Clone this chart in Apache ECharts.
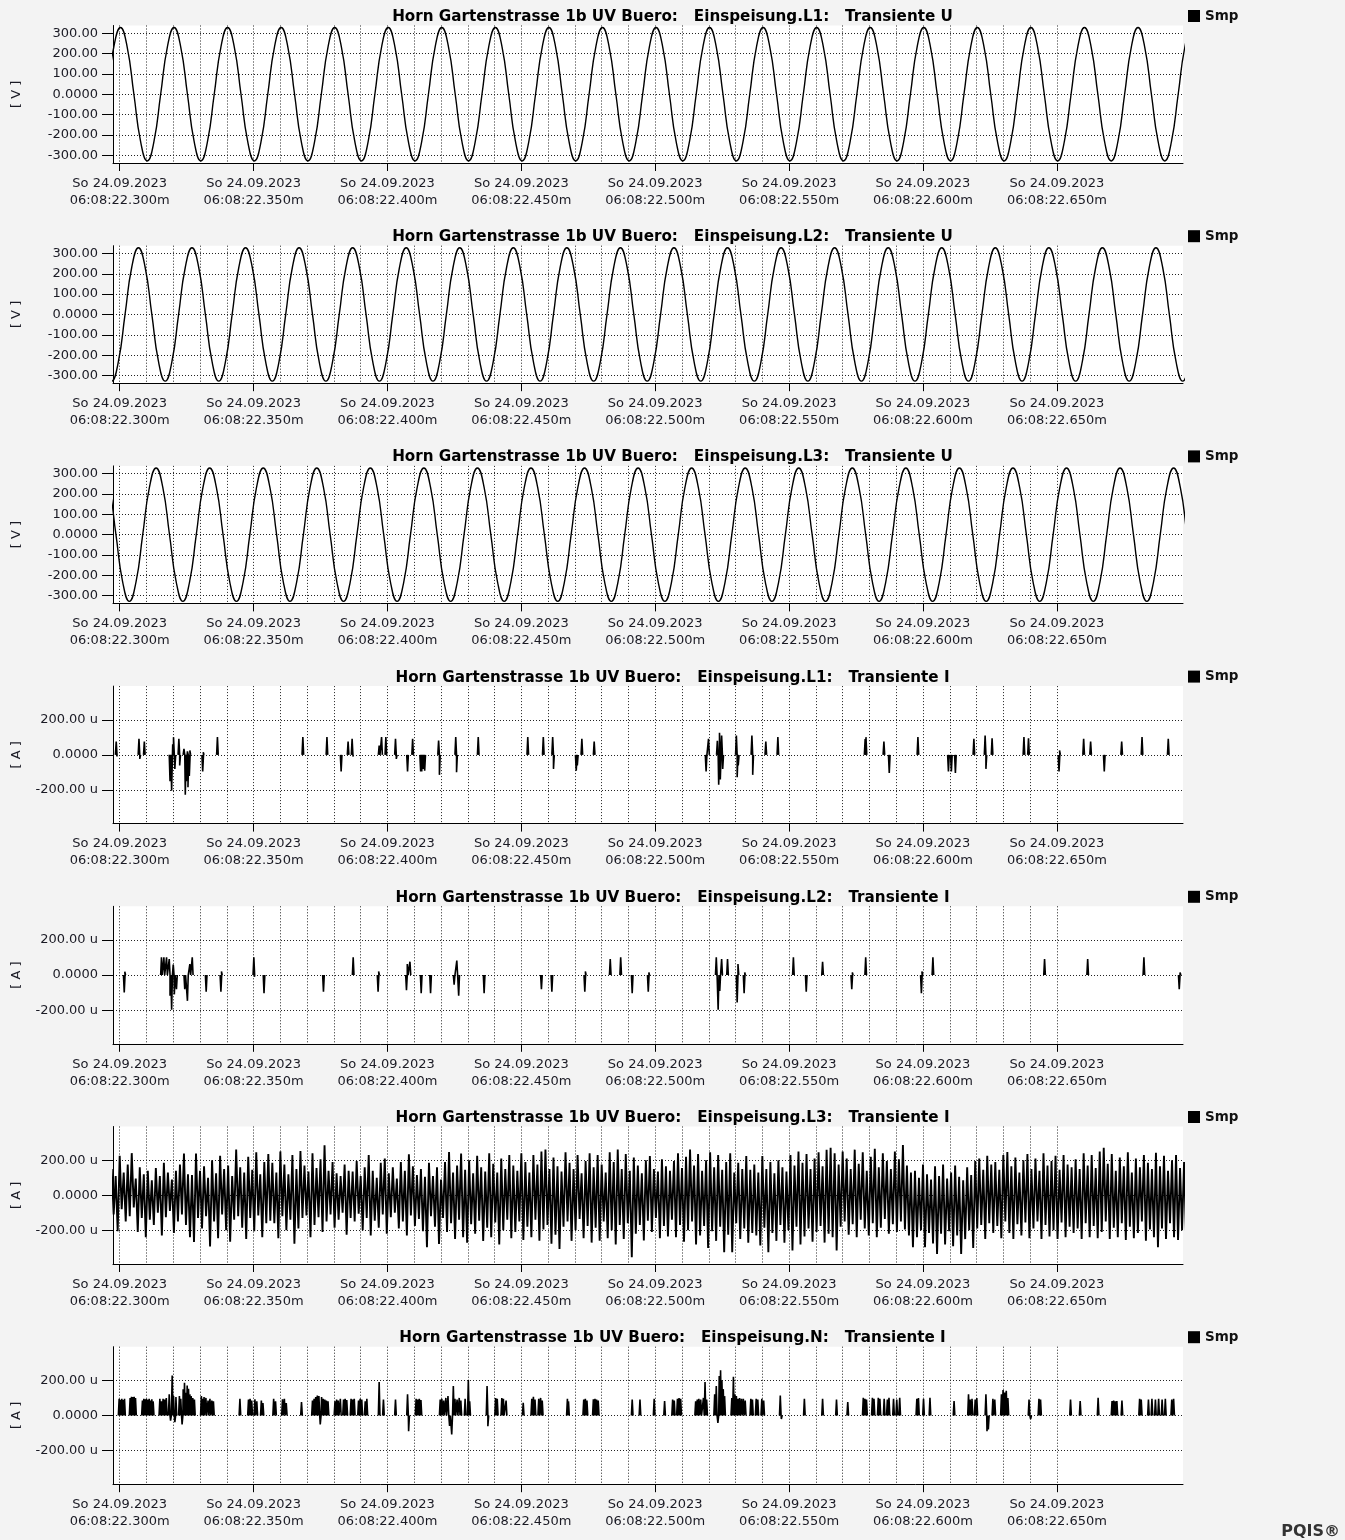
<!DOCTYPE html>
<html>
<head>
<meta charset="utf-8">
<script src="https://cdn.jsdelivr.net/npm/echarts@6/dist/echarts.min.js"></script>
<style>
html,body{margin:0;padding:0;background:#fff;}
#chart{width:1345px;height:1540px;}
</style>
</head>
<body>
<div id="chart"></div>
<script>
var panelTitles = [
    'Horn Gartenstrasse 1b UV Buero:   Einspeisung.L1:   Transiente U',
    'Horn Gartenstrasse 1b UV Buero:   Einspeisung.L2:   Transiente U',
    'Horn Gartenstrasse 1b UV Buero:   Einspeisung.L3:   Transiente U',
    'Horn Gartenstrasse 1b UV Buero:   Einspeisung.L1:   Transiente I',
    'Horn Gartenstrasse 1b UV Buero:   Einspeisung.L2:   Transiente I',
    'Horn Gartenstrasse 1b UV Buero:   Einspeisung.L3:   Transiente I',
    'Horn Gartenstrasse 1b UV Buero:   Einspeisung.N:   Transiente I'
];
var panelUnits = ['[ V ]', '[ V ]', '[ V ]', '[ A ]', '[ A ]', '[ A ]', '[ A ]'];
var seriesName = 'Smp';

// x values are milliseconds after 06:08:22.000
var xMin = 297.5, xMax = 697.1;
var xTicks = [300, 350, 400, 450, 500, 550, 600, 650];
var xGrid = [300, 310, 320, 330, 340, 350, 360, 370, 380, 390, 400, 410, 420, 430, 440, 450, 460, 470,
    480, 490, 500, 510, 520, 530, 540, 550, 560, 570, 580, 590, 600, 610, 620, 630, 640, 650];
var uTicks = [-300, -200, -100, 0, 100, 200, 300];
var iTicks = [-200, 0, 200];

// voltage samples, one every 2.5 ms
var uStep = 2.5;
var u1Start = 295.3, u2Start = 294.5, u3Start = 293.6;
var u1 = [
    0, 232, 328, 232, 0, -232, -328, -232,  0, 232, 328, 232, 0, -232, -328, -232,
    0, 232, 328, 232, 0, -232, -328, -232,  0, 232, 328, 232, 0, -232, -328, -232,
    0, 232, 328, 232, 0, -232, -328, -232,  0, 232, 328, 232, 0, -232, -328, -232,
    0, 232, 328, 232, 0, -232, -328, -232,  0, 232, 328, 232, 0, -232, -328, -232,
    0, 232, 328, 232, 0, -232, -328, -232,  0, 232, 328, 232, 0, -232, -328, -232,
    0, 232, 328, 232, 0, -232, -328, -232,  0, 232, 328, 232, 0, -232, -328, -232,
    0, 232, 328, 232, 0, -232, -328, -232,  0, 232, 328, 232, 0, -232, -328, -232,
    0, 232, 328, 232, 0, -232, -328, -232,  0, 232, 328, 232, 0, -232, -328, -232,
    0, 232, 328, 232, 0, -232, -328, -232,  0, 232, 328, 232, 0, -232, -328, -232,
    0, 232, 328, 232, 0, -232, -328, -232,  0, 232, 328, 232, 0, -232, -328, -232,
    0, 232, 328, 232, 0, -232, -328, -232
];
var u2 = [
    -232, -328, -232, 0, 232, 328, 232, 0,  -232, -328, -232, 0, 232, 328, 232, 0,
    -232, -328, -232, 0, 232, 328, 232, 0,  -232, -328, -232, 0, 232, 328, 232, 0,
    -232, -328, -232, 0, 232, 328, 232, 0,  -232, -328, -232, 0, 232, 328, 232, 0,
    -232, -328, -232, 0, 232, 328, 232, 0,  -232, -328, -232, 0, 232, 328, 232, 0,
    -232, -328, -232, 0, 232, 328, 232, 0,  -232, -328, -232, 0, 232, 328, 232, 0,
    -232, -328, -232, 0, 232, 328, 232, 0,  -232, -328, -232, 0, 232, 328, 232, 0,
    -232, -328, -232, 0, 232, 328, 232, 0,  -232, -328, -232, 0, 232, 328, 232, 0,
    -232, -328, -232, 0, 232, 328, 232, 0,  -232, -328, -232, 0, 232, 328, 232, 0,
    -232, -328, -232, 0, 232, 328, 232, 0,  -232, -328, -232, 0, 232, 328, 232, 0,
    -232, -328, -232, 0, 232, 328, 232, 0,  -232, -328, -232, 0, 232, 328, 232, 0,
    -232, -328, -232, 0, 232, 328, 232, 0
];
var u3 = [
    328, 232, 0, -232, -328, -232, 0, 232,  328, 232, 0, -232, -328, -232, 0, 232,
    328, 232, 0, -232, -328, -232, 0, 232,  328, 232, 0, -232, -328, -232, 0, 232,
    328, 232, 0, -232, -328, -232, 0, 232,  328, 232, 0, -232, -328, -232, 0, 232,
    328, 232, 0, -232, -328, -232, 0, 232,  328, 232, 0, -232, -328, -232, 0, 232,
    328, 232, 0, -232, -328, -232, 0, 232,  328, 232, 0, -232, -328, -232, 0, 232,
    328, 232, 0, -232, -328, -232, 0, 232,  328, 232, 0, -232, -328, -232, 0, 232,
    328, 232, 0, -232, -328, -232, 0, 232,  328, 232, 0, -232, -328, -232, 0, 232,
    328, 232, 0, -232, -328, -232, 0, 232,  328, 232, 0, -232, -328, -232, 0, 232,
    328, 232, 0, -232, -328, -232, 0, 232,  328, 232, 0, -232, -328, -232, 0, 232,
    328, 232, 0, -232, -328, -232, 0, 232,  328, 232, 0, -232, -328, -232, 0, 232,
    328, 232, 0, -232, -328, -232, 0, 232
];

// current transients in u (micro) A: [ms, value]
var i1 = [
    [298.7, 76], [299.0, -10], [307.2, 91], [307.5, -23], [309.2, 76],
    [318.8, -150], [319.4, -204], [319.8, 60], [320.1, 100], [320.6, -80], [322.1, 91], [322.4, -61],
    [324.0, 34], [324.5, -227], [324.9, -150], [325.3, 20], [325.5, -185], [326.0, -120], [326.2, 25],
    [331.0, -95], [331.2, 15], [336.5, 101], [368.4, 101], [377.4, 101], [382.7, -95],
    [385.3, 76], [386.8, 91], [387.2, -10], [396.9, 53], [397.8, 101], [399.4, 101],
    [403.0, 91], [403.3, -23], [407.5, -95], [409.4, 91],
    [412.4, -95], [412.8, -95], [413.3, -80], [413.9, -90], [419.1, 82], [419.4, -114],
    [425.5, 101], [425.8, -99], [433.9, 101], [452.4, 101], [458.2, 101], [461.7, 101], [462.0, -80],
    [470.5, -90], [470.9, -60], [472.6, 91], [477.2, 76],
    [519.0, -95], [519.9, 91], [523.2, 80], [523.7, -171], [524.0, 126], [524.3, -140], [524.8, 110], [525.2, -80],
    [530.3, 110], [530.6, -128], [531.0, -60], [536.1, 110], [536.4, -114], [541.3, 76], [545.8, 101],
    [578.4, 90], [578.7, 101], [585.4, 76], [587.4, -103], [598.1, 101],
    [609.5, -95], [610.6, -95], [612.1, -103], [619.0, 91], [623.2, 110], [623.5, -80], [625.8, 95],
    [637.7, 101], [639.4, 95], [650.8, -95], [651.0, 25], [660.0, 91], [662.6, 76],
    [667.7, -95], [674.2, 76], [681.8, 101], [691.6, 91]
];
var i2 = [
    [301.7, -99], [301.9, 19], [315.6, 101], [316.5, 101], [317.5, 101],
    [318.5, 91], [318.8, -118], [319.4, -198], [320.0, 60], [320.4, -110], [321.2, -80],
    [324.3, -80], [325.3, -147], [326.2, 63], [327.1, 101], [332.3, -95], [337.8, -95], [338.0, 20],
    [350.1, 101], [350.3, -10], [353.9, -103], [376.1, -95], [387.2, 101], [396.5, -95], [396.7, 20],
    [407.1, -86], [407.4, 63], [408.4, 76], [412.6, -103], [416.1, -103],
    [424.9, -55], [425.9, 82], [426.6, -118], [436.1, -103], [457.5, -80], [461.4, -95],
    [473.7, -95], [473.9, 20], [483.2, 91], [487.1, 101], [491.4, -103], [497.4, -95], [497.6, 15],
    [522.8, 101], [523.5, -198], [524.1, -90], [524.8, 91], [527.0, 91],
    [530.6, -156], [530.9, 63], [533.2, -103], [533.4, 15], [551.6, 101], [556.4, -95], [562.5, 76],
    [573.4, -80], [573.6, 15], [578.6, 101], [599.4, -103], [599.6, 20], [603.7, 101],
    [645.4, 91], [661.5, 91], [682.5, 101], [695.7, -80], [696.0, 15]
];
var iN = [
    [299.8, 95], [300.3, 90], [300.8, 95], [301.3, 88], [301.8, 95],
    [303.9, 100], [304.4, 107], [304.9, 105], [305.4, 107], [305.9, 100],
    [308.5, 85], [309.0, 95], [309.5, 92], [310.0, 95], [310.5, 90], [311.0, 95], [311.5, 85], [312.0, 92], [312.5, 80],
    [315.0, 95], [315.6, 80], [316.2, 95], [316.8, 90], [317.4, 100],
    [318.5, 120], [319.0, -30], [319.6, 228], [320.1, 110], [320.6, -38], [321.0, 105],
    [322.3, 110], [322.8, 95], [323.3, -51], [323.7, 150], [324.2, 187], [324.7, 130], [325.2, 170],
    [325.7, 152], [326.2, 120], [326.7, 110], [327.3, 100], [327.9, 90],
    [330.5, 110], [331.0, 95], [331.5, 105], [332.2, 100], [333.0, 85], [333.7, 95], [334.4, 85], [335.0, 80],
    [344.9, 95], [348.1, 90], [348.7, 95], [349.3, 85], [350.5, 92], [351.2, 80], [352.9, 85], [353.5, 70],
    [357.5, 95], [358.2, 80], [360.8, 92], [361.5, 95], [362.2, 70], [367.9, 76],
    [372.0, 85], [372.6, 95], [373.2, 105], [373.8, 114], [374.4, 110], [374.9, -51], [375.4, 105],
    [376.0, 95], [376.6, 90], [377.2, 85], [377.8, 80],
    [380.4, 80], [381.0, 90], [381.6, 85], [382.4, 95], [383.6, 90], [384.2, 95], [384.8, 88],
    [386.4, 95], [387.0, 90], [387.6, 95], [389.2, 85], [389.8, 95], [390.4, 90], [391.7, 80], [392.3, 95],
    [396.9, 190], [398.5, 91], [403.0, 91], [407.5, 120], [407.9, -90],
    [410.7, 95], [411.3, 90], [411.9, 95], [412.5, 88],
    [419.7, 90], [420.3, 95], [421.0, 85], [421.8, 100], [422.6, 110], [423.2, -60], [424.0, -109], [424.6, 168],
    [425.2, 95], [426.0, 90], [426.8, 100], [427.4, 85], [429.0, 95], [430.2, 202], [430.7, 80],
    [437.2, 168], [437.5, -61], [440.4, 100], [441.0, 95], [442.7, 100], [443.3, 95], [444.3, 85],
    [450.7, 72], [453.9, 95], [454.5, 107], [455.1, 90], [456.5, 95], [457.2, 100], [457.8, 85],
    [467.2, 95], [467.6, 80], [473.3, 90], [473.9, 95], [474.5, 85], [476.9, 92], [477.5, 95], [478.1, 90], [478.7, 85],
    [491.4, 91], [494.3, 91],
    [499.6, 95], [503.5, 82], [506.5, 90], [507.1, 85], [508.3, 95], [508.9, 100], [509.5, 95],
    [515.1, 80], [515.7, 90], [516.3, 95], [517.0, 91], [518.0, 100], [518.6, 190], [519.2, 90],
    [522.2, 120], [522.8, 168], [523.4, -42], [523.9, 225], [524.4, 257], [524.9, 200], [525.4, 150], [525.9, 110],
    [528.6, 100], [529.2, 221], [529.7, 120], [530.3, 110], [530.9, 95], [531.5, 100], [532.2, 95], [532.9, 95], [533.6, 85],
    [535.7, 95], [536.3, 90], [537.7, 95], [538.3, 90], [539.8, 95], [540.5, 85],
    [546.7, 114], [547.1, -20], [555.7, 95], [562.5, 95], [567.7, 91], [571.9, 76],
    [577.7, 101], [578.3, 95], [578.9, 90], [581.1, 101], [581.7, 95], [583.3, 101], [583.9, 95],
    [585.5, 95], [586.7, 90], [587.3, 101], [589.0, 95], [590.2, 90], [591.3, 101],
    [597.7, 95], [598.3, 100], [600.2, 95], [602.6, 101], [611.6, 82],
    [617.0, 120], [617.6, 90], [618.3, 95], [619.5, 90], [620.1, 100],
    [623.5, 120], [623.9, -90], [624.4, -80], [626.1, 95], [626.8, 90],
    [629.3, 120], [629.9, 145], [630.5, 130], [631.1, 140], [631.7, 100],
    [639.6, 90], [640.2, -20], [643.3, 95], [643.9, 90], [655.1, 91], [658.7, 82], [665.4, 101],
    [670.6, 82], [671.2, 85], [671.8, 80], [672.4, 82], [674.3, 85],
    [680.9, 95], [681.5, 90], [684.2, 91], [685.5, 95], [686.8, 91], [688.0, 95], [689.3, 91],
    [690.5, 95], [692.9, 90], [693.6, 95]
];

// L3 current noise: per 1.5 ms window the high and the low reading
var i3Start = 297.0, i3Step = 1.5;
var i3Hi = [
    150, 110, 225, 130, 175, 240, 95, 160, 120, 140, 85, 155, 110, 185, 130, 90, 140, 175, 238, 120,
    115, 238, 140, 165, 100, 200, 125, 225, 150, 170, 110, 261, 160, 130, 220, 145, 245, 120, 190, 235,
    185, 130, 250, 175, 120, 230, 150, 252, 170, 135, 240, 155, 205, 285, 140, 190, 125, 110, 175, 140,
    135, 195, 110, 160, 230, 140, 100, 185, 210, 125, 160, 95, 190, 140, 233, 165, 115, 150, 105, 185,
    110, 160, 90, 190, 246, 130, 170, 238, 145, 200, 125, 225, 160, 135, 240, 180, 130, 210, 150, 230,
    170, 140, 240, 190, 130, 230, 175, 250, 261, 150, 215, 165, 135, 245, 185, 150, 230, 125, 195, 240,
    160, 230, 175, 130, 245, 190, 261, 150, 235, 140, 215, 170, 125, 200, 223, 150, 135, 205, 165, 140,
    195, 240, 155, 220, 261, 170, 235, 140, 200, 245, 160, 230, 145, 190, 240, 130, 185, 150, 223, 145,
    175, 130, 223, 150, 190, 125, 200, 160, 135, 230, 170, 250, 185, 235, 150, 210, 245, 165, 260, 271,
    240, 175, 250, 210, 150, 260, 180, 245, 140, 220, 265, 160, 240, 195, 150, 250, 205, 287, 170, 130,
    140, 100, 175, 120, 90, 165, 110, 175, 95, 130, 170, 105, 85, 160, 115, 195, 210, 145, 225, 175,
    190, 145, 230, 246, 165, 215, 130, 200, 235, 150, 210, 140, 240, 170, 195, 225, 145, 230, 175, 160,
    205, 150, 240, 170, 230, 155, 250, 271, 180, 235, 140, 215, 165, 245, 130, 210, 160, 230, 185, 150,
    242, 165, 225, 140, 200, 230, 155, 190, 145, 220, 170, 205, 160, 150, 200, 175, 205, 160, 190, 170
];
var i3Lo = [
    -110, -205, -80, -150, -120, -70, -210, -130, -240, -140, -170, -100, -230, -125, -90, -215, -150, -110, -170, -240,
    -267, -130, -190, -120, -292, -150, -245, -110, -200, -265, -140, -120, -185, -250, -130, -205, -115, -240, -160, -145,
    -160, -245, -120, -200, -140, -277, -190, -130, -115, -240, -170, -125, -210, -150, -110, -185, -140, -100, -225, -130,
    -150, -105, -200, -130, -230, -145, -185, -110, -220, -125, -100, -190, -150, -230, -115, -175, -135, -205, -296, -120,
    -180, -278, -130, -210, -160, -250, -140, -240, -270, -165, -220, -145, -260, -185, -240, -155, -280, -200, -140, -245,
    -210, -150, -255, -180, -240, -140, -260, -195, -170, -277, -225, -306, -180, -150, -260, -200, -135, -245, -175, -270,
    -185, -260, -150, -245, -200, -280, -170, -250, -160, -354, -220, -170, -258, -145, -210, -130, -245, -175, -235, -140,
    -240, -170, -265, -200, -150, -280, -230, -175, -300, -205, -260, -180, -325, -225, -325, -160, -250, -190, -270, -215,
    -230, -287, -185, -325, -215, -260, -170, -270, -200, -315, -180, -280, -235, -190, -265, -210, -175, -270, -220, -240,
    -315, -180, -150, -225, -165, -240, -140, -190, -230, -160, -240, -185, -135, -220, -165, -210, -150, -195, -230, -296,
    -240, -200, -296, -215, -275, -335, -220, -280, -205, -290, -230, -335, -250, -200, -300, -190, -170, -250, -160, -215,
    -175, -245, -150, -215, -250, -165, -230, -155, -245, -190, -150, -250, -170, -235, -200, -250, -155, -240, -180, -215,
    -190, -250, -160, -240, -175, -245, -210, -150, -250, -185, -240, -160, -255, -180, -245, -215, -150, -260, -195, -240,
    -296, -190, -250, -160, -240, -255, -200, -235, -175, -230, -245, -190, -210, -240, -180, -225, -210, -190, -235, -205
];

var FONT = 'DejaVu Sans';
var panelTop = 25.5, panelPitch = 220.2, plotH = 137.5;

function sampled(start, step, vals) {
    var out = [];
    for (var i = 0; i < vals.length; i++) {
        out.push([start + i * step, vals[i]]);
    }
    return out;
}

function spikes(pairs) {
    var list = pairs.slice().sort(function (a, b) { return a[0] - b[0]; });
    var out = [], last = -1e9;
    for (var i = 0; i < list.length; i++) {
        var t = list[i][0], v = list[i][1];
        if (out.length && t - last > 1.0) out.push([t - 0.5, null]);
        out.push([t - 0.3, 0], [t, v], [t + 0.3, 0]);
        last = t;
    }
    return out;
}

function zigzag(start, step, hi, lo) {
    var out = [];
    for (var i = 0; i < hi.length; i++) {
        out.push([start + i * step, hi[i]]);
        out.push([start + i * step + step / 2, lo[i]]);
    }
    return out;
}

var panelData = [
    sampled(u1Start, uStep, u1),
    sampled(u2Start, uStep, u2),
    sampled(u3Start, uStep, u3),
    spikes(i1),
    spikes(i2),
    zigzag(i3Start, i3Step, i3Hi, i3Lo),
    spikes(iN)
];

function xLabel(v) {
    return 'So 24.09.2023\n06:08:22.' + v + 'm';
}
function uLabel(v) {
    return v === 0 ? '0.0000' : v.toFixed(2);
}
function iLabel(v) {
    return v === 0 ? '0.0000' : v.toFixed(2) + ' u';
}

function buildOption() {
    var grids = [], xAxes = [], yAxes = [], series = [], titles = [], legends = [];
    for (var k = 0; k < 7; k++) {
        var isU = k < 3;
        var py = panelTop + k * panelPitch;
        grids.push({
            left: 113, right: 162, top: py, height: plotH,
            show: true, backgroundColor: '#fff', borderWidth: 0
        });
        titles.push({
            text: panelTitles[k], left: 'center', top: py - 16, padding: 0,
            textStyle: { fontFamily: FONT, fontSize: 15.2, fontWeight: 'bold', color: '#000' }
        });
        legends.push({
            data: [seriesName], left: 1188, top: py - 16.5, padding: 0,
            icon: 'rect', itemWidth: 12, itemHeight: 12, itemGap: 4, selectedMode: false,
            textStyle: { fontFamily: FONT, fontSize: 13.5, fontWeight: 'bold', color: '#111' }
        });
        // labelled axis
        xAxes.push({
            gridIndex: k, type: 'value', min: xMin, max: xMax, position: 'bottom',
            axisLine: { onZero: false, lineStyle: { color: '#000', width: 1 } },
            axisTick: { customValues: xTicks, length: 8, lineStyle: { color: '#000' } },
            axisLabel: {
                customValues: xTicks, formatter: xLabel, margin: 12,
                fontFamily: FONT, fontSize: 13, lineHeight: 17, color: '#1a1a24'
            },
            splitLine: { show: false }
        });
        // 10 ms grid
        xAxes.push({
            gridIndex: k, type: 'value', min: xMin, max: xMax, position: 'top',
            axisLine: { show: false },
            axisTick: { show: false, customValues: xGrid },
            axisLabel: { show: false },
            splitLine: { show: true, lineStyle: { color: '#222', type: [1, 2], width: 1 } }
        });
        var ticks = isU ? uTicks : iTicks;
        var lim = isU ? 338 : 392;
        yAxes.push({
            gridIndex: k, type: 'value', min: -lim, max: lim,
            name: panelUnits[k], nameLocation: 'middle', nameGap: 90, nameRotate: 90,
            nameTextStyle: { fontFamily: FONT, fontSize: 13, color: '#1a1a24' },
            axisLine: { show: true, onZero: false, lineStyle: { color: '#000', width: 1 } },
            axisTick: { show: true, customValues: ticks, length: 11, lineStyle: { color: '#000' } },
            axisLabel: {
                customValues: ticks, formatter: isU ? uLabel : iLabel, margin: 15,
                fontFamily: FONT, fontSize: 13, color: '#1a1a24'
            },
            splitLine: { show: true, lineStyle: { color: '#222', type: [1, 2], width: 1 } }
        });
        series.push({
            name: seriesName, type: 'line', xAxisIndex: 2 * k, yAxisIndex: k,
            data: panelData[k], showSymbol: false, symbol: 'none',
            smooth: isU, connectNulls: false, clip: true,
            color: '#000',
            lineStyle: { color: '#000', width: isU ? 1.4 : (k === 5 ? 1.9 : 1.6) }
        });
    }
    return {
        animation: false,
        backgroundColor: '#f3f3f3',
        graphic: [{
            type: 'text', silent: true, x: 1340, y: 1532,
            style: { text: 'PQIS®', fill: '#333', font: 'bold 16px "DejaVu Sans"', align: 'right', verticalAlign: 'middle' }
        }],
        title: titles,
        legend: legends,
        grid: grids,
        xAxis: xAxes,
        yAxis: yAxes,
        series: series
    };
}

var chart = echarts.init(document.getElementById('chart'));
chart.setOption(buildOption());
</script>
</body>
</html>
